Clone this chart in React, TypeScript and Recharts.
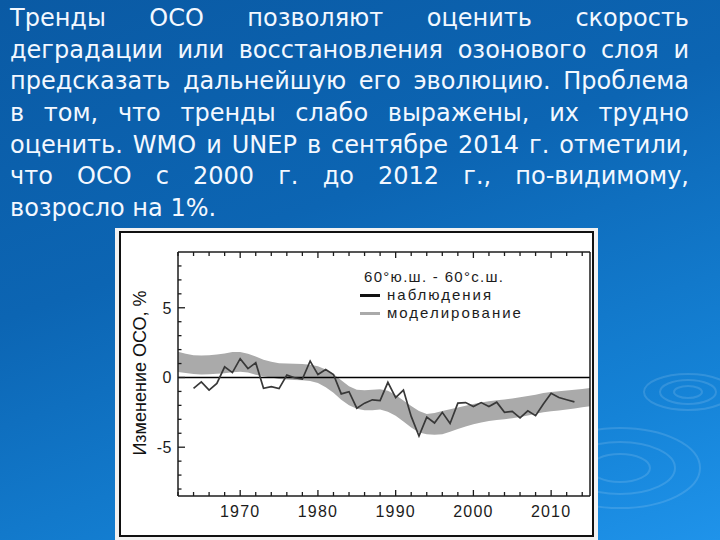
import { Area, ComposedChart, Legend, Line, ReferenceLine, XAxis, YAxis } from 'recharts';

// band of model runs
const bandYears = [
  1962, 1963, 1964, 1965, 1966, 1967, 1968, 1969, 1970, 1971, 1972, 1973, 1974, 1975, 1976, 1977, 1978, 1979,
  1980, 1981, 1982, 1983, 1984, 1985, 1986, 1987, 1988, 1989, 1990, 1991, 1992, 1993, 1994, 1995, 1996, 1997,
  1998, 1999, 2000, 2001, 2002, 2003, 2004, 2005, 2006, 2007, 2008, 2009, 2010, 2011, 2012, 2013, 2014, 2015,
];
const bandHigh = [
  1.85, 1.7, 1.6, 1.58, 1.6, 1.65, 1.72, 1.82, 1.82, 1.7, 1.5, 1.28, 1.12, 1.03, 1.0, 0.98, 0.96, 0.92,
  0.8, 0.58, 0.25, -0.2, -0.62, -0.88, -0.92, -0.88, -0.85, -0.95, -1.25, -1.65, -2.05, -2.4, -2.62, -2.55,
  -2.4, -2.28, -2.15, -2.02, -1.9, -1.8, -1.7, -1.64, -1.58, -1.5, -1.42, -1.32, -1.23, -1.12, -1.04, -0.98,
  -0.94, -0.88, -0.82, -0.76,
];
const bandLow = [
  0.4, 0.32, 0.25, 0.22, 0.24, 0.27, 0.3, 0.38, 0.42, 0.35, 0.2, 0.08, 0.0, -0.1, -0.15, -0.18, -0.2, -0.25,
  -0.4, -0.7, -1.1, -1.6, -2.0, -2.25, -2.35, -2.35, -2.3, -2.45, -2.75, -3.15, -3.58, -3.95, -4.08, -4.1,
  -4.08, -3.9, -3.7, -3.52, -3.36, -3.22, -3.12, -3.05, -3.0, -2.92, -2.84, -2.72, -2.6, -2.5, -2.42, -2.36,
  -2.3, -2.22, -2.14, -2.06,
];

// observations
const obsYears = [
  1964, 1965, 1966, 1967, 1968, 1969, 1970, 1971, 1972, 1973, 1974, 1975, 1976, 1977, 1978, 1979, 1980, 1981,
  1982, 1983, 1984, 1985, 1986, 1987, 1988, 1989, 1990, 1991, 1992, 1993, 1994, 1995, 1996, 1997, 1998, 1999,
  2000, 2001, 2002, 2003, 2004, 2005, 2006, 2007, 2008, 2009, 2010, 2011, 2012, 2013,
];
const obsValues = [
  -0.78, -0.31, -0.9, -0.43, 0.76, 0.35, 1.35, 0.64, 1.06, -0.78, -0.66, -0.8, 0.17, -0.02, -0.12, 1.18, 0.21,
  0.57, 0.21, -1.18, -1.02, -2.2, -1.84, -1.6, -1.65, -0.35, -1.44, -0.9, -2.79, -4.2, -2.84, -3.26, -2.5, -3.3,
  -1.84, -1.8, -2.08, -1.8, -2.08, -1.77, -2.5, -2.43, -2.9, -2.39, -2.74, -1.9, -1.13, -1.44, -1.6, -1.75,
];

const yearTicks = [
  1962, 1964, 1966, 1968, 1970, 1972, 1974, 1976, 1978, 1980, 1982, 1984, 1986, 1988, 1990, 1992, 1994, 1996,
  1998, 2000, 2002, 2004, 2006, 2008, 2010, 2012, 2014,
];
const yearLabels = [1970, 1980, 1990, 2000, 2010];
const valueTicks = [-8, -7, -6, -5, -4, -3, -2, -1, 0, 1, 2, 3, 4, 5, 6, 7, 8];
const valueLabels = [-5, 0, 5];

const legendTitle = '60°ю.ш. - 60°с.ш.';
const obsName = 'наблюдения';
const modelName = 'моделирование';
const yTitle = 'Изменение ОСО, %';

const textLines = [
  'Тренды ОСО позволяют оценить скорость',
  'деградации или восстановления озонового слоя и',
  'предсказать дальнейшую его эволюцию. Проблема',
  'в том, что тренды слабо выражены, их трудно',
  'оценить. WMO и UNEP в сентябре 2014 г. отметили,',
  'что ОСО с 2000 г. до 2012 г., по-видимому,',
  'возросло на 1%.',
];

const data = bandYears.map((year, i) => {
  const j = obsYears.indexOf(year);
  return { year, band: [bandLow[i], bandHigh[i]], obs: j >= 0 ? obsValues[j] : null };
});

const INK = '#1c1c1c';
const chartFont = '"Liberation Sans", Arial, sans-serif';

const BottomTick = (props: any) => {
  const { x, y, payload } = props;
  const major = yearLabels.includes(payload.value);
  return (
    <g>
      <line x1={x} x2={x} y1={y} y2={y - (major ? 6 : 4)} stroke={INK} strokeWidth={1.3} />
      {major && (
        <text x={x} y={y + 21} textAnchor="middle" fontSize={16} letterSpacing={1.2} fill={INK} fontFamily={chartFont}>
          {payload.value}
        </text>
      )}
    </g>
  );
};

const TopTick = (props: any) => {
  const { x, y, payload } = props;
  const major = yearLabels.includes(payload.value);
  return <line x1={x} x2={x} y1={y} y2={y + (major ? 6 : 4)} stroke={INK} strokeWidth={1.3} />;
};

const LeftTick = (props: any) => {
  const { x, y, payload } = props;
  const major = valueLabels.includes(payload.value);
  return (
    <g>
      <line x1={x} x2={x + (major ? 7 : 3.5)} y1={y} y2={y} stroke={INK} strokeWidth={1.3} />
      {major && (
        <text x={x - 6} y={y} dy="0.36em" textAnchor="end" fontSize={16} letterSpacing={0.5} fill={INK} fontFamily={chartFont}>
          {payload.value}
        </text>
      )}
    </g>
  );
};

const RightTick = (props: any) => {
  const { x, y, payload } = props;
  const major = valueLabels.includes(payload.value);
  return <line x1={x} x2={x - (major ? 7 : 3.5)} y1={y} y2={y} stroke={INK} strokeWidth={1.3} />;
};

const LegendBox = () => (
  <div style={{ position: 'relative', width: 230, height: 60, fontFamily: chartFont, color: INK }}>
    <div style={{ position: 'absolute', left: 4, top: 0, fontSize: 15, letterSpacing: 1.3, whiteSpace: 'nowrap' }}>
      {legendTitle}
    </div>
    <div style={{ position: 'absolute', left: 0, top: 26, width: 20, height: 3, background: '#111' }} />
    <div style={{ position: 'absolute', left: 27, top: 18, fontSize: 15, letterSpacing: 2, whiteSpace: 'nowrap' }}>
      {obsName}
    </div>
    <div style={{ position: 'absolute', left: 0, top: 44, width: 20, height: 3, background: '#aaaaaa' }} />
    <div style={{ position: 'absolute', left: 27, top: 36, fontSize: 15, letterSpacing: 2, whiteSpace: 'nowrap' }}>
      {modelName}
    </div>
  </div>
);

export default function App() {
  return (
    <div
      style={{
        position: 'fixed',
        left: 0,
        top: 0,
        width: 720,
        height: 540,
        overflow: 'hidden',
        background: 'linear-gradient(160deg, #0a5aa4 0%, #0c65b3 40%, #1583d7 80%, #1f93ea 100%)',
      }}
    >
      <svg width={720} height={540} style={{ position: 'absolute', left: 0, top: 0 }}>
        <g fill="none" stroke="rgba(255,255,255,0.13)" strokeWidth={2}>
          <ellipse cx={688} cy={392} rx={14} ry={6} />
          <ellipse cx={688} cy={392} rx={28} ry={12} />
          <ellipse cx={688} cy={392} rx={44} ry={18} />
          <ellipse cx={620} cy={468} rx={30} ry={14} />
          <ellipse cx={620} cy={468} rx={55} ry={26} />
          <ellipse cx={620} cy={468} rx={80} ry={40} />
        </g>
      </svg>

      <div
        style={{
          position: 'absolute',
          left: 10,
          top: 3,
          width: 679,
          fontFamily: '"DejaVu Sans", Verdana, sans-serif',
          fontSize: 24,
          lineHeight: '31.66px',
          color: '#f3f8ff',
        }}
      >
        {textLines.map((line, i) => (
          <div
            key={i}
            style={{
              textAlign: i < textLines.length - 1 ? 'justify' : 'left',
              textAlignLast: i < textLines.length - 1 ? 'justify' : 'left',
            }}
          >
            {line}
          </div>
        ))}
      </div>

      <div
        style={{
          position: 'absolute',
          left: 115,
          top: 228,
          width: 483,
          height: 314,
          background: '#f2f2f2',
        }}
      />
      <div
        style={{
          position: 'absolute',
          left: 119,
          top: 231,
          width: 471,
          height: 302,
          border: '2px solid #111',
          background: '#fff',
        }}
      >
        <ComposedChart width={471} height={302} data={data} margin={{ top: 18, right: 1, bottom: 38, left: 56 }}>
          <XAxis
            xAxisId="b"
            dataKey="year"
            type="number"
            domain={[1962, 2015]}
            ticks={yearTicks}
            interval={0}
            height={1}
            tickSize={0}
            tickMargin={0}
            tickLine={false}
            axisLine={{ stroke: INK, strokeWidth: 1.5 }}
            tick={BottomTick}
          />
          <XAxis
            xAxisId="t"
            orientation="top"
            dataKey="year"
            type="number"
            domain={[1962, 2015]}
            ticks={yearTicks}
            interval={0}
            height={1}
            tickSize={0}
            tickMargin={0}
            tickLine={false}
            axisLine={{ stroke: INK, strokeWidth: 1.5 }}
            tick={TopTick}
          />
          <YAxis
            yAxisId="l"
            type="number"
            domain={[-8.5, 9]}
            ticks={valueTicks}
            interval={0}
            width={1}
            tickSize={0}
            tickMargin={0}
            tickLine={false}
            axisLine={{ stroke: INK, strokeWidth: 1.5 }}
            tick={LeftTick}
          />
          <YAxis
            yAxisId="r"
            orientation="right"
            type="number"
            domain={[-8.5, 9]}
            ticks={valueTicks}
            interval={0}
            width={1}
            tickSize={0}
            tickMargin={0}
            tickLine={false}
            axisLine={{ stroke: INK, strokeWidth: 1.5 }}
            tick={RightTick}
          />
          <Legend
            layout="horizontal"
            verticalAlign="middle"
            align="center"
            content={LegendBox}
            wrapperStyle={{ left: 239, top: 35, width: 230, height: 60 }}
          />
          <Area
            xAxisId="b"
            yAxisId="l"
            dataKey="band"
            name={modelName}
            fill="#aaaaaa"
            fillOpacity={1}
            stroke="none"
            isAnimationActive={false}
          />
          <ReferenceLine xAxisId="b" yAxisId="l" y={0} stroke="#000" strokeWidth={1.3} />
          <Line
            xAxisId="b"
            yAxisId="l"
            dataKey="obs"
            name={obsName}
            stroke="#383838"
            strokeWidth={1.7}
            dot={false}
            isAnimationActive={false}
          />
        </ComposedChart>
      </div>

      <div
        style={{
          position: 'absolute',
          left: 140,
          top: 373,
          transform: 'translate(-50%, -50%) rotate(-90deg)',
          whiteSpace: 'nowrap',
          fontFamily: chartFont,
          fontSize: 18,
          color: '#111',
        }}
      >
        {yTitle}
      </div>
    </div>
  );
}
